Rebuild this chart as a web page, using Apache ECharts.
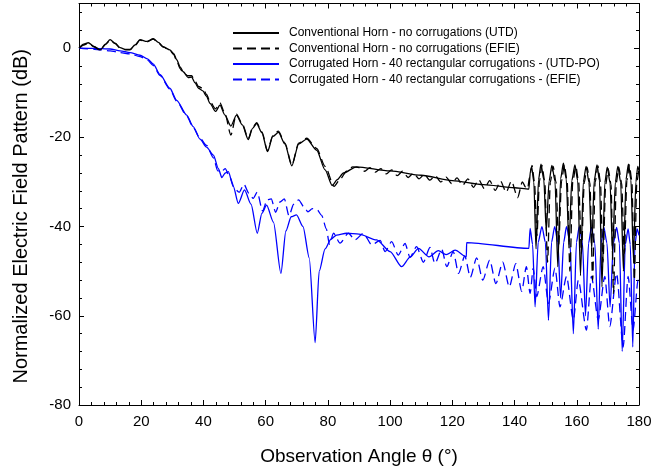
<!DOCTYPE html>
<html>
<head>
<meta charset="utf-8">
<script src="https://cdn.jsdelivr.net/npm/echarts@6/dist/echarts.min.js"></script>
<style>html,body{margin:0;padding:0;background:#fff}#c{width:669px;height:475px}</style>
</head>
<body>
<div id="c"></div>
<script>
const seriesNames = [
  'Conventional Horn - no corrugations (UTD)',
  'Conventional Horn - no corrugations (EFIE)',
  'Corrugated Horn - 40 rectangular corrugations - (UTD-PO)',
  'Corrugated Horn - 40 rectangular corrugations - (EFIE)'
];
const xTicks = [0, 20, 40, 60, 80, 100, 120, 140, 160, 180];
const yTicks = [-80, -60, -40, -20, 0];

const convUTD = [[0,0],[1.5,0.9],[3,1.2],[4.8,0.4],[6.8,-0.4],[8.5,0.9],[10,1.9],[11.6,1.1],[13.2,0.1],[15,-0.3],[16.4,-0.3],[18,0.7],[19.6,1.9],[21.8,1.5],[23.9,2.1],[25.5,1.3],[27.1,0.3],[29.2,-0.4],[30.4,-1.2],[31.4,-2.6],[32.5,-4.2],[33.5,-5.3],[35.1,-6.6],[36.2,-6.5],[37.3,-7.8],[38.4,-9],[39.8,-9.6],[41,-10.8],[42.1,-12.4],[43.9,-14.2],[45.3,-12.8],[46.9,-15],[48.8,-17.5],[50.6,-15],[52.5,-17.2],[54.4,-20.5],[55.8,-18],[57.1,-16.9],[58.8,-19],[60.6,-23.2],[62.3,-19.8],[64.1,-18.9],[66.2,-21.5],[68.4,-26.4],[70.6,-21.5],[73.2,-20.4],[76.4,-22.9],[79.1,-27.3],[81.4,-30.8],[83,-29.5],[85,-28],[89.2,-26.6],[100,-27.5],[110,-28.5],[120,-29.7],[130,-30.6],[140,-31.3],[144.6,-31.6],
[145.1,-27.5],[145.5,-26.6],[146.2,-30],[146.9,-45],[147.7,-29.5],[148.5,-26],[149.4,-29.5],[150.2,-41],[151.1,-29.8],[152,-26.3],[153,-29.8],[153.9,-49],[154.8,-29.3],[155.7,-25.8],[156.6,-29.3],[157.5,-44],[158.4,-29.7],[159.4,-26.2],[160.3,-29.7],[161.2,-51],[162.1,-30],[163,-26.5],[163.9,-30],[164.8,-45],[165.6,-29.7],[166.5,-26.2],[167.3,-29.7],[168.1,-53.5],[169,-30.2],[169.8,-26.7],[170.7,-30.2],[171.5,-46],[172.4,-30],[173.2,-26.5],[174.1,-30],[175,-50],[175.8,-29.5],[176.6,-26],[177.4,-29.5],[178.2,-47],[179,-30],[179.6,-26.5],[180,-27.5]];

const convEFIE = [[0,0],[1.5,0.7],[3,1.1],[4.8,0.3],[6.8,-0.5],[8.5,0.8],[10,1.8],[11.6,1],[13.2,0],[15,-0.4],[16.4,-0.4],[18,0.6],[19.6,1.8],[21.8,1.4],[23.9,2],[25.5,1.2],[27.1,0.2],[29.2,-0.5],[30.4,-1.4],[31.4,-2.8],[32.5,-4.6],[33.5,-5.6],[35.1,-6.2],[36.2,-6.2],[37.3,-7.4],[38.4,-8.6],[39.8,-9],[41,-10.4],[42.1,-12],[43.9,-13.6],[45.3,-12.3],[46.9,-14.6],[48.8,-19.5],[50.6,-14.8],[52.5,-17],[54.4,-20.3],[55.8,-17.8],[57.1,-16.7],[58.8,-18.8],[60.6,-23],[62.3,-19.6],[64.1,-18.6],[66.2,-21.3],[68.4,-26.2],[70.6,-21.3],[73.2,-20.2],[76.4,-22.5],[79.1,-26.5],[82,-31],[84,-29.3],[86,-27.6],[88,-26.6],[90,-26.8],[91.8,-27.6],[93.5,-26.8],[95.3,-27.8],[97,-27],[98.8,-28.2],[100.5,-27.3],[102.3,-28.6],[104,-27.6],[105.8,-29],[107.5,-28],[109.3,-29.3],[111,-28.3],[112.8,-29.6],[114.5,-28.6],[116.3,-30],[118,-28.9],[119.8,-30.4],[121.5,-29.1],[123.3,-30.8],[125,-29.3],[126.8,-31.2],[128.5,-29.5],[130.3,-31.5],[132,-29.7],[133.8,-31.9],[135.5,-29.8],[137.3,-32.3],[139,-29.8],[141,-33.5],[142.5,-30],[143.6,-31.2],
[144.2,-31.5],[144.8,-29],[145.6,-26.3],[146.4,-30],[147.2,-42],[148,-29.8],[148.8,-26.3],[149.7,-29.8],[150.6,-48],[151.5,-30],[152.4,-26.5],[153.3,-30],[154.2,-44],[155.1,-29.8],[156,-26.2],[156.9,-29.8],[157.8,-50],[158.7,-30],[159.7,-26.5],[160.6,-30],[161.5,-46],[162.4,-30.2],[163.3,-26.7],[164.2,-30.2],[165.1,-52],[165.9,-30],[166.8,-26.4],[167.6,-30],[168.4,-48],[169.3,-30.5],[170.1,-27],[171,-30.5],[171.8,-55],[172.7,-30.2],[173.5,-26.7],[174.4,-30.2],[175.3,-46],[176.1,-29.7],[176.9,-26.2],[177.7,-29.7],[178.5,-52],[179.3,-30],[180,-27]];

const corrUTD = [[0,0],[5,-0.05],[10,-0.2],[13.2,-0.6],[16.4,-1],[19.6,-1.6],[22,-2.4],[23.9,-3.6],[26,-5.9],[29.2,-9],[31.4,-11.7],[34.6,-15],[36.7,-17.6],[38.9,-20.4],[41,-22.2],[43.2,-24],[44.8,-27],[45.9,-29],[47,-28],[48,-27.7],[49.6,-31],[51.2,-34.8],[53.2,-31.8],[55.3,-35],[57.3,-41.5],[58.8,-37],[60.3,-35.2],[62.5,-39],[64.9,-50.5],[66.5,-41],[68.2,-37.8],[69.9,-37.4],[72,-40],[74,-47],[75.9,-66],[77.2,-50],[79.1,-45],[81,-42.8],[82.8,-41.9],[86,-41.5],[90,-41.7],[95.7,-43],[100,-45.6],[103.7,-49],[106.5,-46.8],[109.1,-44.9],[112.5,-46.8],[115.5,-45.4],[118,-46.3],[120.9,-45.3],[124.5,-46.8],[124.6,-43.6],[144.6,-44.9],
[145,-40.4],[145.8,-44],[146.6,-58],[147.6,-43.5],[148.8,-40],[149.9,-43.5],[150.9,-61],[151.9,-43.5],[152.9,-40],[153.9,-43.5],[154.8,-56],[155.8,-43.5],[156.7,-40],[157.8,-43.5],[158.9,-64],[159.9,-43.5],[160.8,-40],[161.8,-43.5],[162.8,-60],[163.8,-43.7],[164.7,-40.2],[165.8,-43.7],[166.9,-63],[167.8,-43.7],[168.7,-40.2],[169.7,-43.7],[170.7,-58],[171.8,-43.7],[172.8,-40.2],[173.7,-43.7],[174.6,-68],[175.6,-44],[176.5,-40.5],[177.2,-44],[178,-67],[178.7,-44],[179.4,-40.5],[180,-42]];

const corrEFIE = [[0,0],[5,-0.25],[10,-0.6],[13.2,-1],[16.4,-1.3],[19.6,-1.9],[22,-2.7],[23.9,-3.9],[26,-6.1],[29.2,-9.2],[31.4,-11.9],[34.6,-15.2],[36.7,-17.8],[38.9,-20.2],[41,-21.8],[43.2,-24.6],[44.6,-27.5],[45.6,-27.8],[47,-27],[48.5,-29],[50,-31.5],[51.5,-32.3],[53,-30.5],[54.6,-32.5],[56,-33.7],[57.3,-32.3],[59,-36.5],[60.5,-34],[61.8,-33.8],[63.2,-36.8],[64.6,-34.5],[66,-33.8],[67.5,-37.6],[69,-35],[70.6,-34],[72.3,-35.6],[73.6,-36.7],[75,-36],[76.5,-36.2],[78,-37.5],[79.5,-40.5],[80.5,-44],[81.8,-41.5],[83.9,-43.7],[86.6,-41.5],[88.7,-43],[91.4,-41.5],[94.1,-44.1],[96.8,-43.1],[98.4,-45.6],[100.5,-43.4],[102.6,-46.4],[104.8,-43.8],[106.4,-46.9],[108.5,-44.5],[110.7,-48],[112.8,-44.7],[114.4,-48.3],[116.6,-45.1],[118.2,-49],[120.3,-45.6],[122,-50.5],[124,-46.6],[125.8,-51.4],[127.8,-47],[129.8,-52],[132,-47.5],[134,-52.8],[136.2,-48],[138.3,-53.5],[140.4,-48.3],[142.3,-54.5],[143.8,-49],[145,-55],[146,-49.3],[147.1,-55.7],[149.2,-49],[150.9,-57.2],[153,-49.3],[154.6,-58],[156.7,-51.2],[158.9,-60.9],[160.5,-52],[163.1,-63.2],[164.7,-51.2],[166.9,-60.9],[169,-51.2],[170.6,-62.4],[172.8,-50.5],[174.9,-67],[176.5,-51.2],[178.1,-63.2],[179.7,-52],[180,-53]];

const FONT = 'Liberation Sans, Arial, sans-serif';
const chart = echarts.init(document.getElementById('c'), null, {renderer: 'canvas'});

function axisCommon() {
  return {
    axisLine: {show: true, onZero: false, lineStyle: {color: '#000', width: 1}},
    axisTick: {show: true, inside: true, length: 5, lineStyle: {color: '#000', width: 1}},
    minorTick: {show: true, splitNumber: 5, length: 3, lineStyle: {color: '#000', width: 1}},
    splitLine: {show: false},
    minorSplitLine: {show: false}
  };
}

const option = {
  animation: false,
  backgroundColor: '#fff',
  grid: {left: 79, right: 30, top: 3.5, bottom: 70, containLabel: false},
  legend: {
    orient: 'vertical', left: 227, top: 22, itemWidth: 46, itemHeight: 10, itemGap: 3.5,
    data: seriesNames,
    itemStyle: {opacity: 0},
    textStyle: {fontFamily: FONT, fontSize: 12, color: '#000', padding: [0, 0, 0, 5]}
  },
  xAxis: [
    Object.assign({
      type: 'value', min: xTicks[0], max: xTicks[xTicks.length - 1], interval: 20, position: 'bottom',
      name: 'Observation Angle \u03b8 (\u00b0)', nameLocation: 'middle', nameGap: 42,
      nameTextStyle: {fontFamily: FONT, fontSize: 19, color: '#000'},
      axisLabel: {show: true, margin: 9, fontFamily: FONT, fontSize: 15, color: '#000',
        formatter: v => xTicks.indexOf(v) >= 0 ? String(v) : ''}
    }, axisCommon()),
    Object.assign({
      type: 'value', min: xTicks[0], max: xTicks[xTicks.length - 1], interval: 20, position: 'top',
      axisLabel: {show: false}
    }, axisCommon())
  ],
  yAxis: [
    Object.assign({
      type: 'value', min: -80, max: 10, interval: 20, position: 'left',
      name: 'Normalized Electric Field Pattern (dB)', nameLocation: 'middle', nameGap: 48,
      nameTextStyle: {fontFamily: FONT, fontSize: 20, color: '#000', padding: [0, 24, 0, 0]},
      axisLabel: {show: true, margin: 8, fontFamily: FONT, fontSize: 15, color: '#000',
        formatter: v => yTicks.indexOf(v) >= 0 ? String(v) : ''}
    }, axisCommon()),
    Object.assign({
      type: 'value', min: -80, max: 10, interval: 20, position: 'right',
      axisLabel: {show: false}
    }, axisCommon())
  ],
  series: [
    {name: seriesNames[0], type: 'line', data: convUTD, showSymbol: false, symbol: 'none', smooth: 0.25, smoothMonotone: 'x',
      lineStyle: {color: '#000', width: 1.3}, itemStyle: {color: '#000'}, z: 3},
    {name: seriesNames[1], type: 'line', data: convEFIE, showSymbol: false, symbol: 'none', smooth: 0.25, smoothMonotone: 'x',
      lineStyle: {color: '#000', width: 1.3, type: [9, 5]}, itemStyle: {color: '#000'}, z: 3},
    {name: seriesNames[2], type: 'line', data: corrUTD, showSymbol: false, symbol: 'none', smooth: 0.25, smoothMonotone: 'x',
      lineStyle: {color: '#0000ff', width: 1.3}, itemStyle: {color: '#0000ff'}, z: 2},
    {name: seriesNames[3], type: 'line', data: corrEFIE, showSymbol: false, symbol: 'none', smooth: 0.25, smoothMonotone: 'x',
      lineStyle: {color: '#0000ff', width: 1.3, type: [9, 5]}, itemStyle: {color: '#0000ff'}, z: 2}
  ]
};
chart.setOption(option);
</script>
</body>
</html>
